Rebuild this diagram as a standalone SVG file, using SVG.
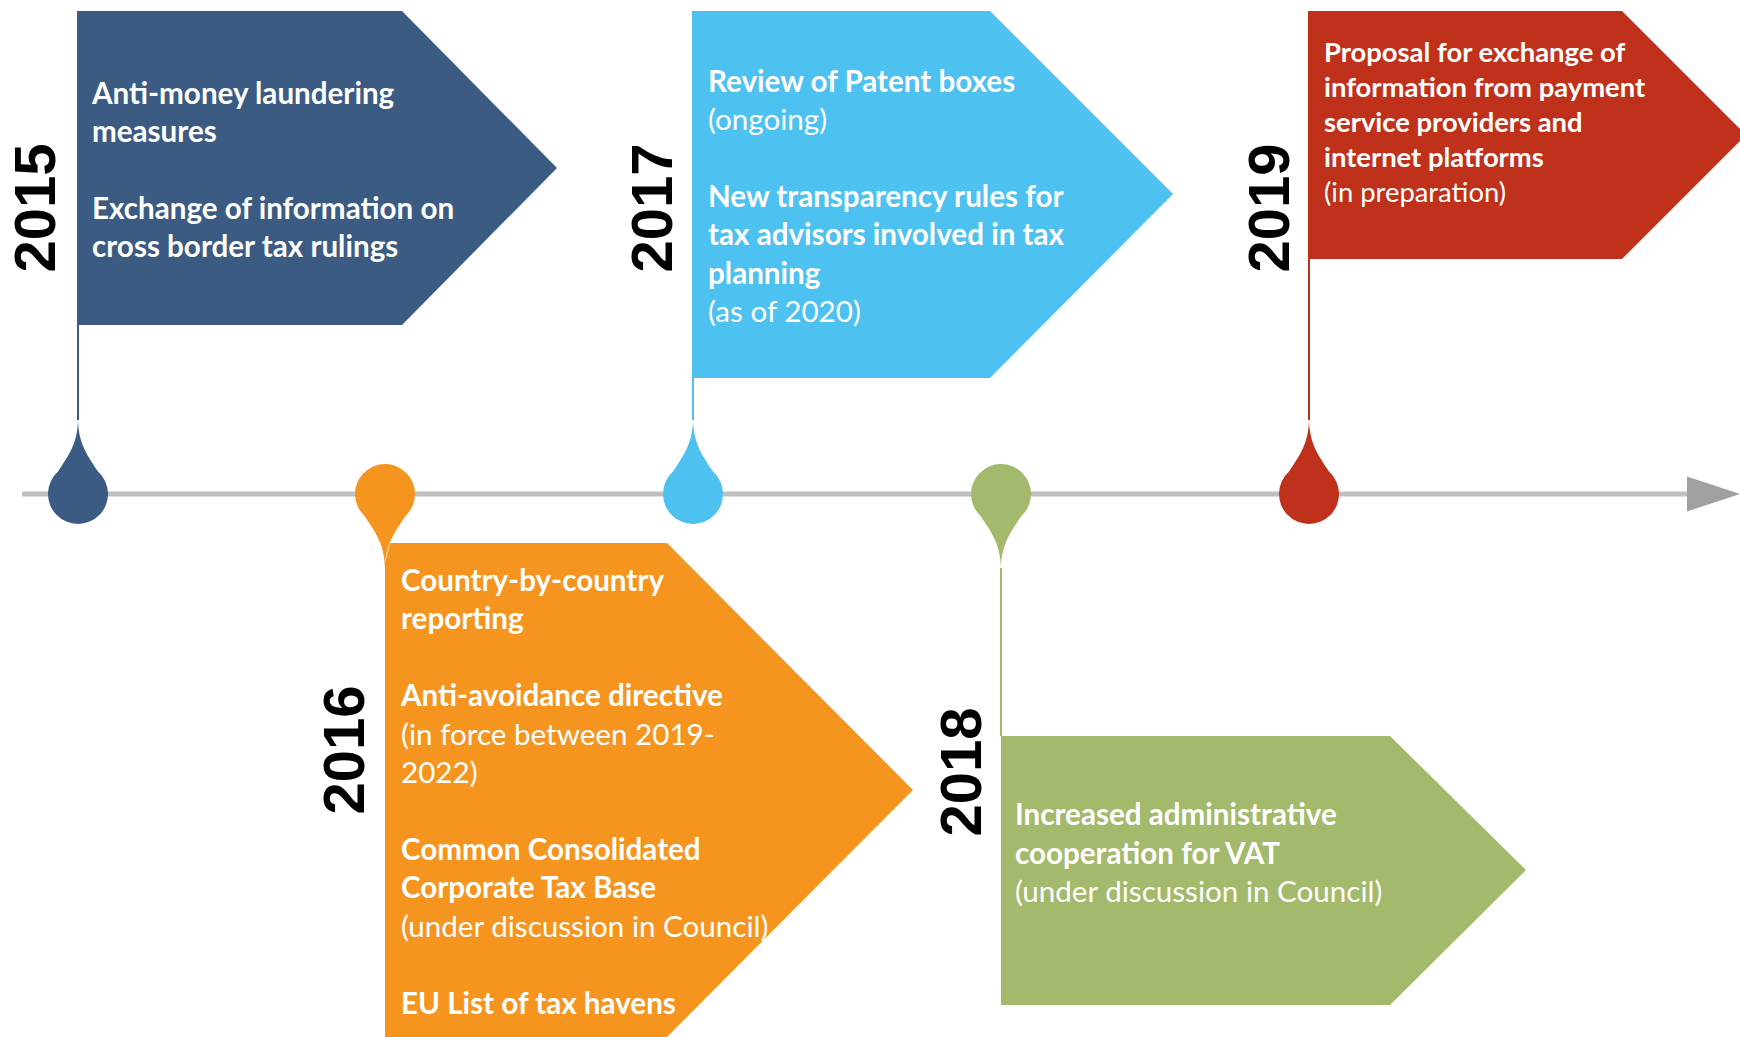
<svg xmlns="http://www.w3.org/2000/svg" width="1740" height="1037" viewBox="0 0 1740 1037">
<style>
.t{font-family:Lato,"Open Sans","Liberation Sans",sans-serif;font-size:29.6px;fill:#fff}
.b{font-weight:bold}
.r{font-weight:normal}
.sm{font-size:27.4px}
.yr{font-family:"Liberation Sans",Arial,sans-serif;font-weight:bold;font-size:58px;fill:#000;text-anchor:middle}
.tl{stroke:#bfbfbf;stroke-width:5;fill:none}
</style>
<defs>
<path id="dropUp" d="M0,-76 C0,-50 -10,-38 -20,-22.4 A30,30 0 1 0 20,-22.4 C10,-38 0,-50 0,-76 Z"/>
<path id="dropDown" d="M0,76 C0,50 -10,38 -20,22.4 A30,30 0 1 1 20,22.4 C10,38 0,50 0,76 Z"/>
</defs>
<rect width="1740" height="1037" fill="#fff"/>

<g id="connectors">
<line class="tl" x1="22" y1="494" x2="1690" y2="494"/>
<polygon points="1687,476.5 1740,494 1687,511.5" fill="#a0a0a0"/>
<line x1="78" y1="325" x2="78" y2="420" stroke="#3b5b83" stroke-width="2"/>
<line x1="693" y1="378" x2="693" y2="420" stroke="#4dc1ef" stroke-width="2"/>
<line x1="1309" y1="259" x2="1309" y2="420" stroke="#bf311b" stroke-width="2"/>
<line x1="1001" y1="568" x2="1001" y2="736" stroke="#a3b96b" stroke-width="2"/>
</g>

<g id="node-2015">
<polygon points="77,11 402,11 557,168 402,325 77,325" fill="#3b5b83"/>
<use href="#dropUp" x="78" y="494" fill="#3b5b83"/>
<text class="yr" transform="translate(55,208) rotate(-90)">2015</text>
<text class="t b" x="92" y="104">Anti-money laundering</text>
<text class="t b" x="92" y="142">measures</text>
<text class="t b" x="92" y="219">Exchange of information on</text>
<text class="t b" x="92" y="257">cross border tax rulings</text>
</g>

<g id="node-2016">
<polygon points="390,543 667,543 913,790 667,1037 385,1037 385,563" fill="#f59520"/>
<use href="#dropDown" x="385" y="494" fill="#f59520"/>
<text class="yr" transform="translate(364,750) rotate(-90)">2016</text>
<text class="t b" x="401" y="591">Country-by-country</text>
<text class="t b" x="401" y="629">reporting</text>
<text class="t b" x="401" y="706">Anti-avoidance directive</text>
<text class="t r" x="401" y="745">(in force between 2019-</text>
<text class="t r" x="401" y="783">2022)</text>
<text class="t b" x="401" y="860">Common Consolidated</text>
<text class="t b" x="401" y="898">Corporate Tax Base</text>
<text class="t r" x="401" y="937">(under discussion in Council)</text>
<text class="t b" x="401" y="1014">EU List of tax havens</text>
</g>

<g id="node-2017">
<polygon points="692,11 990,11 1173,194 990,378 692,378" fill="#4dc1ef"/>
<use href="#dropUp" x="693" y="494" fill="#4dc1ef"/>
<text class="yr" transform="translate(672,208) rotate(-90)">2017</text>
<text class="t b" x="708" y="92">Review of Patent boxes</text>
<text class="t r" x="708" y="130">(ongoing)</text>
<text class="t b" x="708" y="207">New transparency rules for</text>
<text class="t b" x="708" y="245">tax advisors involved in tax</text>
<text class="t b" x="708" y="284">planning</text>
<text class="t r" x="708" y="322">(as of 2020)</text>
</g>

<g id="node-2018">
<polygon points="1001,736 1390,736 1526,870 1390,1005 1001,1005" fill="#a3b96b"/>
<use href="#dropDown" x="1001" y="494" fill="#a3b96b"/>
<text class="yr" transform="translate(981,772) rotate(-90)">2018</text>
<text class="t b" x="1015" y="825">Increased administrative</text>
<text class="t b" x="1015" y="864">cooperation for VAT</text>
<text class="t r" x="1015" y="902">(under discussion in Council)</text>
</g>

<g id="node-2019">
<polygon points="1308,11 1622,11 1746,135 1622,259 1308,259" fill="#bf311b"/>
<use href="#dropUp" x="1309" y="494" fill="#bf311b"/>
<text class="yr" transform="translate(1289,208) rotate(-90)">2019</text>
<text class="t b sm" x="1324" y="62">Proposal for exchange of</text>
<text class="t b sm" x="1324" y="97">information from payment</text>
<text class="t b sm" x="1324" y="132">service providers and</text>
<text class="t b sm" x="1324" y="167">internet platforms</text>
<text class="t r sm" x="1324" y="202">(in preparation)</text>
</g>
</svg>
